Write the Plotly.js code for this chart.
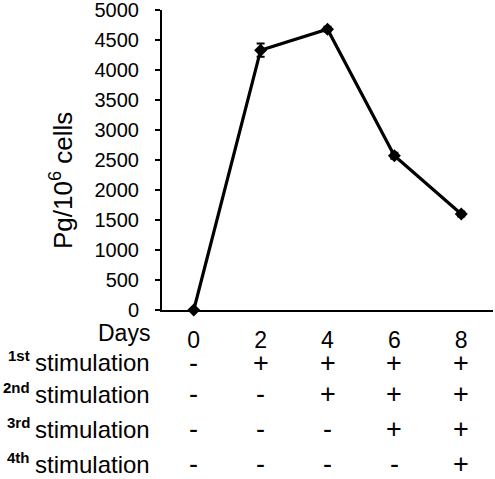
<!DOCTYPE html>
<html>
<head>
<meta charset="utf-8">
<script src="https://cdn.plot.ly/plotly-3.0.1.min.js"></script>
<style>html,body{margin:0;padding:0;background:#fff;}#chart{width:495px;height:479px;}</style>
</head>
<body>
<div id="chart"></div>
<script>
// Data
var days = [0, 2, 4, 6, 8];
var dayLabels = ['0', '2', '4', '6', '8'];
var pgPerMillion = [0, 4330, 4680, 2570, 1600];
var errorValues = [0, 110, 40, 50, 40];
var yTicks = [0, 500, 1000, 1500, 2000, 2500, 3000, 3500, 4000, 4500, 5000];
var rowSup = ['1st', '2nd', '3rd', '4th'];
var rowWord = 'stimulation';
var stim1 = ['-', '+', '+', '+', '+'];
var stim2 = ['-', '-', '+', '+', '+'];
var stim3 = ['-', '-', '-', '+', '+'];
var stim4 = ['-', '-', '-', '-', '+'];
var stimRows = [stim1, stim2, stim3, stim4];

// layout helpers
var FONT = 'Arial, "Liberation Sans", sans-serif';
var rowY = [-0.175, -0.281, -0.398, -0.514];

var annotations = [];
annotations.push({xref: 'paper', yref: 'paper', x: -0.305, y: 0.43, xanchor: 'center', yanchor: 'middle',
  textangle: -90, text: 'Pg/10<sup>6</sup> cells', showarrow: false, font: {family: FONT, size: 26, color: '#000'}});
annotations.push({xref: 'paper', yref: 'paper', x: -0.029, y: -0.078, xanchor: 'right', yanchor: 'middle',
  text: 'Days', showarrow: false, font: {family: FONT, size: 23, color: '#000'}});
for (var r = 0; r < stimRows.length; r++) {
  annotations.push({xref: 'paper', yref: 'paper', x: -0.029, y: rowY[r], xanchor: 'right', yanchor: 'middle',
    text: rowWord, showarrow: false, font: {family: FONT, size: 24, color: '#000'}});
  annotations.push({xref: 'paper', yref: 'paper', x: -0.392, y: rowY[r] + 0.022, xanchor: 'right', yanchor: 'middle',
    text: '<b>' + rowSup[r] + '</b>', showarrow: false, font: {family: FONT, size: 15, color: '#000'}});
  for (var c = 0; c < days.length; c++) {
    annotations.push({xref: 'x', yref: 'paper', x: days[c], y: rowY[r], xanchor: 'center', yanchor: 'middle',
      text: stimRows[r][c], showarrow: false, font: {family: FONT, size: 27, color: '#000'}});
  }
}

var trace = {
  x: days, y: pgPerMillion, type: 'scatter', mode: 'lines+markers',
  line: {color: '#000', width: 3.2},
  marker: {symbol: 'diamond', size: 10, color: '#000'},
  error_y: {type: 'data', array: errorValues, visible: true, color: '#000', thickness: 2, width: 4},
  cliponaxis: false
};

var layout = {
  width: 495, height: 479,
  margin: {l: 162, r: 2, t: 10, b: 168.5},
  paper_bgcolor: '#fff', plot_bgcolor: '#fff',
  showlegend: false,
  font: {family: FONT, color: '#000'},
  xaxis: {
    range: [-0.95, 8.95], tickvals: days, ticktext: dayLabels,
    showgrid: false, zeroline: false, showline: true, linecolor: '#000', linewidth: 2,
    ticks: '', ticklabelstandoff: 8,
    tickfont: {family: FONT, size: 23, color: '#000'}
  },
  yaxis: {
    range: [0, 5000], tickvals: yTicks, ticklabeloverflow: 'allow',
    showgrid: false, zeroline: false, showline: true, linecolor: '#000', linewidth: 2,
    ticks: 'outside', ticklen: 5, tickwidth: 2, tickcolor: '#000', ticklabelstandoff: 12,
    tickfont: {family: FONT, size: 20, color: '#000'}
  },
  annotations: annotations
};

Plotly.newPlot('chart', [trace], layout, {displayModeBar: false, staticPlot: true});
</script>
</body>
</html>
